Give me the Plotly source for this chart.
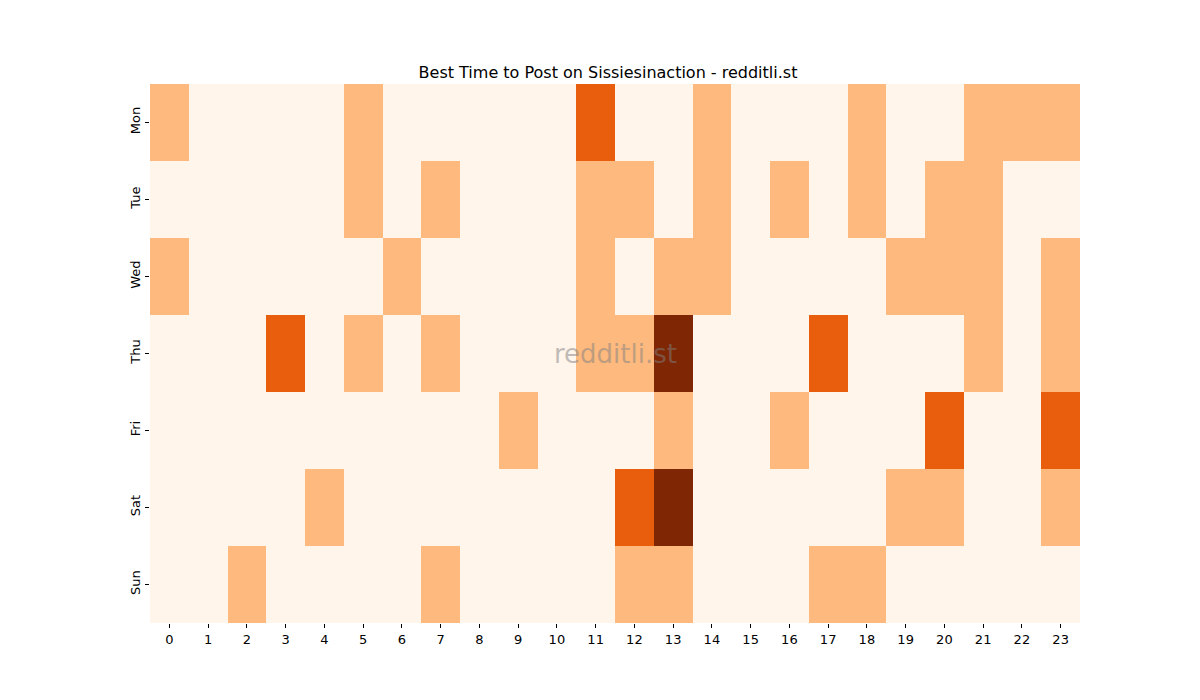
import plotly.graph_objects as go

days = ["Mon", "Tue", "Wed", "Thu", "Fri", "Sat", "Sun"]
hours = list(range(24))

# activity level per hour (0-3), one list per weekday
mon = [1, 0, 0, 0, 0, 1, 0, 0, 0, 0, 0, 2, 0, 0, 1, 0, 0, 0, 1, 0, 0, 1, 1, 1]
tue = [0, 0, 0, 0, 0, 1, 0, 1, 0, 0, 0, 1, 1, 0, 1, 0, 1, 0, 1, 0, 1, 1, 0, 0]
wed = [1, 0, 0, 0, 0, 0, 1, 0, 0, 0, 0, 1, 0, 1, 1, 0, 0, 0, 0, 1, 1, 1, 0, 1]
thu = [0, 0, 0, 2, 0, 1, 0, 1, 0, 0, 0, 1, 1, 3, 0, 0, 0, 2, 0, 0, 0, 1, 0, 1]
fri = [0, 0, 0, 0, 0, 0, 0, 0, 0, 1, 0, 0, 0, 1, 0, 0, 1, 0, 0, 0, 2, 0, 0, 2]
sat = [0, 0, 0, 0, 1, 0, 0, 0, 0, 0, 0, 0, 2, 3, 0, 0, 0, 0, 0, 1, 1, 0, 0, 1]
sun = [0, 0, 1, 0, 0, 0, 0, 1, 0, 0, 0, 0, 1, 1, 0, 0, 0, 1, 1, 0, 0, 0, 0, 0]

z = [mon, tue, wed, thu, fri, sat, sun]

# discrete Oranges-like scale
colorscale = [
    [0.0, "#fff5eb"], [0.125, "#fff5eb"],
    [0.125, "#fdb97e"], [0.5, "#fdb97e"],
    [0.5, "#e95e0d"], [0.875, "#e95e0d"],
    [0.875, "#7f2704"], [1.0, "#7f2704"],
]

fig = go.Figure(go.Heatmap(
    z=z, x=hours, y=days,
    colorscale=colorscale, zmin=0, zmax=3,
    showscale=False, xgap=0, ygap=0,
))

fig.update_layout(
    width=1200, height=700,
    margin=dict(l=142, r=128, t=76, b=85),
    paper_bgcolor="white", plot_bgcolor="white",
    font=dict(family="DejaVu Sans", size=12, color="black"),
    title=dict(text="Best Time to Post on Sissiesinaction - redditli.st",
               x=0.5, xanchor="center", y=1, yref="paper", yanchor="bottom",
               pad=dict(b=6), font=dict(size=16)),
    xaxis=dict(tickmode="array", tickvals=hours, ticks="outside", ticklen=4,
               tickcolor="black", showgrid=False, zeroline=False,
               tickfont=dict(size=13)),
    yaxis=dict(autorange="reversed", ticks="outside", ticklen=4,
               tickcolor="black", showgrid=False, zeroline=False,
               tickangle=-90, tickfont=dict(size=13)),
    annotations=[dict(text="redditli.st", x=0.5, y=0.5, xref="paper", yref="paper",
                      showarrow=False, font=dict(size=26, color="rgba(128,128,128,0.5)"))],
)

fig.write_html("out.html")
